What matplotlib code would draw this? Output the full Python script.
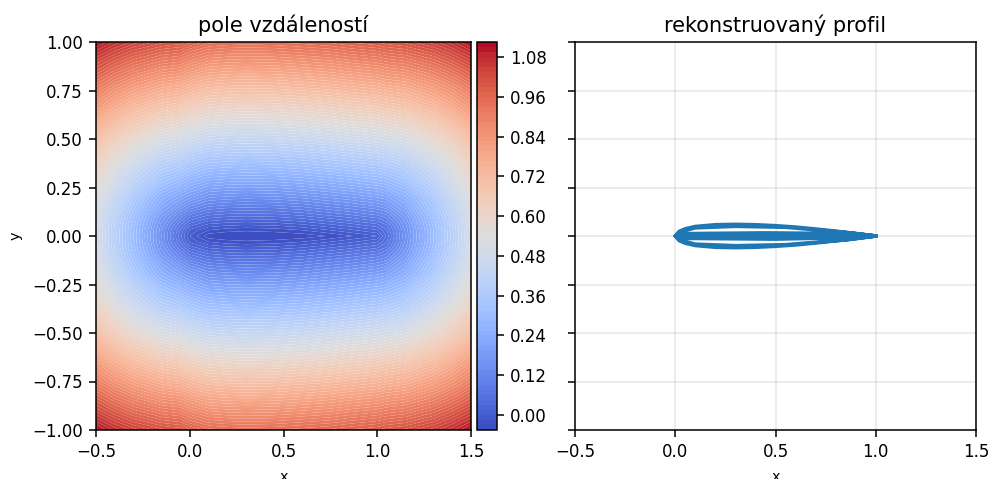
import numpy as np
import matplotlib
matplotlib.use("Agg")
import matplotlib.pyplot as plt

title_left = "pole vzdáleností"
title_right = "rekonstruovaný profil"
xlabel = "x"
ylabel = "y"

# distance field estimated from the picture and its colour bar (upper half; the field is mirror-symmetric)
grid_x = [-0.5, -0.4, -0.3, -0.15, -0.05, 0.0, 0.1, 0.2, 0.3, 0.45, 0.6, 0.75, 0.85, 1.0, 1.05, 1.15, 1.3, 1.4, 1.5]
grid_y_upper = [0.0, 0.03, 0.06, 0.1, 0.2, 0.35, 0.5, 0.75, 1.0]
row_000 = [0.500, 0.400, 0.300, 0.150, 0.050, 0.000, -0.040, -0.044, -0.045, -0.043, -0.040, -0.028, -0.017, 0.000, 0.050, 0.150, 0.300, 0.400, 0.500]
row_003 = [0.501, 0.401, 0.301, 0.153, 0.058, 0.012, -0.015, -0.024, -0.027, -0.024, -0.015, 0.000, 0.011, 0.029, 0.058, 0.153, 0.301, 0.401, 0.501]
row_006 = [0.504, 0.404, 0.306, 0.162, 0.078, 0.040, 0.013, 0.006, 0.003, 0.006, 0.015, 0.030, 0.040, 0.058, 0.078, 0.162, 0.306, 0.404, 0.504]
row_010 = [0.510, 0.412, 0.316, 0.180, 0.112, 0.080, 0.053, 0.046, 0.043, 0.046, 0.055, 0.070, 0.080, 0.098, 0.112, 0.180, 0.316, 0.412, 0.510]
row_020 = [0.539, 0.447, 0.361, 0.250, 0.206, 0.185, 0.153, 0.146, 0.143, 0.146, 0.155, 0.169, 0.178, 0.196, 0.206, 0.250, 0.361, 0.447, 0.539]
row_035 = [0.610, 0.532, 0.461, 0.381, 0.354, 0.330, 0.303, 0.296, 0.293, 0.296, 0.305, 0.318, 0.329, 0.345, 0.354, 0.381, 0.461, 0.532, 0.610]
row_050 = [0.707, 0.640, 0.583, 0.522, 0.502, 0.480, 0.453, 0.446, 0.443, 0.446, 0.455, 0.467, 0.478, 0.493, 0.502, 0.522, 0.583, 0.640, 0.707]
row_075 = [0.901, 0.850, 0.808, 0.765, 0.752, 0.730, 0.703, 0.696, 0.693, 0.696, 0.705, 0.716, 0.727, 0.742, 0.752, 0.765, 0.808, 0.850, 0.901]
row_100 = [1.118, 1.077, 1.044, 1.011, 1.001, 0.980, 0.953, 0.946, 0.943, 0.946, 0.955, 0.965, 0.977, 0.991, 1.001, 1.011, 1.044, 1.077, 1.118]

# reconstructed profile points, in drawing order
profile_x = [1.0, 0.9, 0.8, 0.7, 0.6, 0.5, 0.4, 0.3, 0.2, 0.1, 0.05, 0.02, 0.0,
             0.02, 0.05, 0.1, 0.2, 0.3, 0.4, 0.5, 0.6, 0.7, 0.8, 0.9, 1.0,
             0.85, 0.55, 0.3, 0.1, 0.04, 0.04, 0.1, 0.3, 0.55, 0.87, 1.0,
             0.9, 0.45, 0.02, 0.0, 0.02, 0.5, 0.95, 1.0,
             0.87, 0.0, 0.87, 1.0]
profile_y = [0.0, 0.013, 0.025, 0.036, 0.046, 0.053, 0.058, 0.060, 0.058, 0.049, 0.037, 0.024, 0.0,
             -0.024, -0.037, -0.049, -0.058, -0.060, -0.058, -0.053, -0.046, -0.036, -0.025, -0.013, 0.0,
             0.018, 0.045, 0.05, 0.042, 0.026, -0.026, -0.042, -0.05, -0.045, -0.018, 0.0,
             0.012, 0.016, 0.012, 0.0, -0.012, -0.016, -0.006, 0.0,
             0.006, 0.0, -0.006, 0.0]

upper = np.array([row_000, row_003, row_006, row_010, row_020, row_035, row_050, row_075, row_100])
Z = np.vstack([upper[:0:-1], upper])
gy = np.concatenate([-np.array(grid_y_upper)[:0:-1], grid_y_upper])
gx = np.array(grid_x)

W, H = 990, 479
fig = plt.figure(figsize=(W / 100, H / 100), dpi=100)

def box(l, r, t, b):
    return [l / W, 1 - b / H, (r - l) / W, (b - t) / H]

ax1 = fig.add_axes(box(96, 471, 42, 430))
cax = fig.add_axes(box(477, 497, 42, 430))
ax2 = fig.add_axes(box(575, 976, 42, 430))

cs = ax1.contourf(gx, gy, Z, levels=100, cmap="coolwarm", antialiased=True)
cb = fig.colorbar(cs, cax=cax)
ax1.set_xlim(-0.5, 1.5)
ax1.set_ylim(-1, 1)
ax1.set_title(title_left, fontsize=15, pad=7)
ax1.set_xlabel(xlabel, fontsize=10.4, labelpad=6.5)
ax1.set_ylabel(ylabel, fontsize=10.4, labelpad=7)
ax1.set_xticks([-0.5, 0, 0.5, 1, 1.5])
ax1.set_yticks(np.arange(-1, 1.01, 0.25))

ax2.plot(profile_x, profile_y, color="#1f77b4", lw=2.6)
ax2.set_xlim(-0.5, 1.5)
ax2.set_ylim(-1, 1)
ax2.set_title(title_right, fontsize=15, pad=7)
ax2.set_xlabel(xlabel, fontsize=10.4, labelpad=6.5)
ax2.set_xticks([-0.5, 0, 0.5, 1, 1.5])
ax2.set_yticks(np.arange(-1, 1.01, 0.25))
ax2.tick_params(labelleft=False)
ax2.grid(True, alpha=0.3, lw=1.1)

for ax in (ax1, ax2, cax):
    ax.tick_params(labelsize=12, length=5, width=1.1, pad=4.5)
    for s in ax.spines.values():
        s.set_linewidth(1.1)

fig.savefig("out.png", dpi=100)
